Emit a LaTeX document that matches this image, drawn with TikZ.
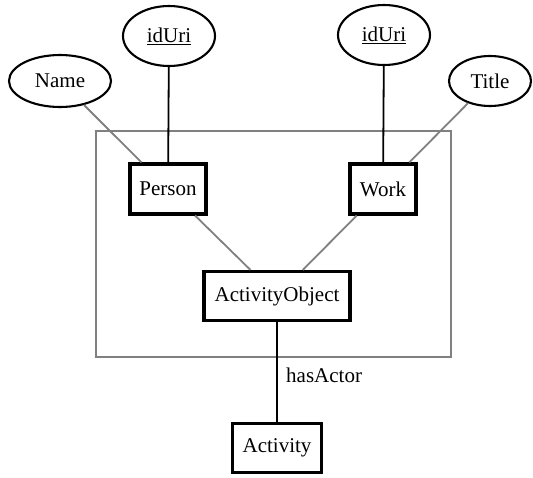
\documentclass[tikz,border=0pt]{standalone}
\usepackage{fontspec}
\setmainfont{Liberation Serif}
\usetikzlibrary{shapes.geometric}
\begin{document}
\begin{tikzpicture}[x=1pt,y=-1pt,
  label font/.style={font=\fontsize{21}{24}\selectfont},
  entity/.style={draw, line width=3.2pt, inner sep=0pt, label font},
  attribute/.style={ellipse, draw, line width=2.1pt, inner sep=0pt, label font},
  idlink/.style={line width=1.8pt},
  softlink/.style={line width=1.8pt, draw=gray},
  group/.style={draw=gray, line width=1.4pt}]
\useasboundingbox (0,0) rectangle (533,477);

% aggregation frame
\draw[group] (96,131) rectangle (451,357);

% entities
\node[entity, minimum width=76pt, minimum height=50pt] (person) at (168,189) {Person};
\node[entity, minimum width=66pt, minimum height=50pt] (work) at (383,189) {Work};
\node[entity, minimum width=146pt, minimum height=49pt] (actobj) at (277,296) {ActivityObject};
\node[entity, minimum width=89pt, minimum height=49pt] (activity) at (277,448) {Activity};

% attributes
\node[attribute, minimum width=102pt, minimum height=52pt] (name) at (60,81) {Name};
\node[attribute, minimum width=92pt, minimum height=60pt] (pid) at (169,36) {\underline{idUri}};
\node[attribute, minimum width=92pt, minimum height=60pt] (wid) at (384,35) {\underline{idUri}};
\node[attribute, minimum width=82pt, minimum height=50pt] (title) at (490,81) {Title};

% connectors
\draw[softlink] (name) -- (person);
\draw[idlink] (pid) -- (person);
\draw[idlink] (wid) -- (work);
\draw[softlink] (title) -- (work);
\draw[softlink] (person) -- (actobj);
\draw[softlink] (work) -- (actobj);
\draw[idlink] (actobj) -- (activity);

\node[label font, anchor=west, inner sep=0pt] (rel) at (286,375) {hasActor};
\end{tikzpicture}
\end{document}
